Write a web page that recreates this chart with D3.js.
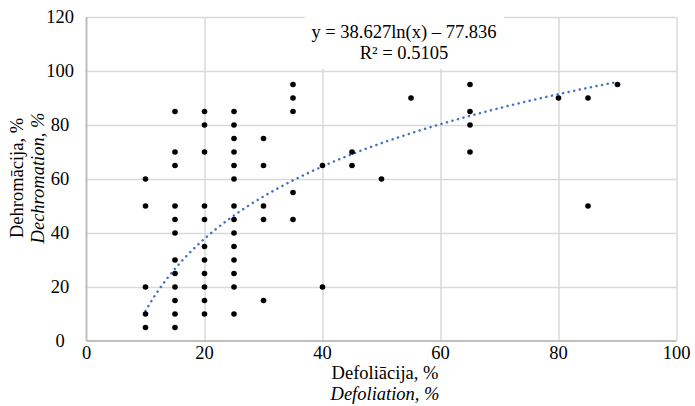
<!DOCTYPE html>
<html lang="lv">
  <head>
    <meta charset="UTF-8">
    <script src="https://d3js.org/d3.v7.min.js"></script>
    <style>
      body { margin: 0; background: #fff; }
      text { font-family: "Liberation Serif", "Times New Roman", serif; fill: #000; }
    </style>
  </head>
  <body>
    <div id="chart"></div>
    <script>
      // data: defoliation (x) and dechromation (y), %
      const defoliation = [
        10, 10, 10, 10, 10,
        15, 15, 15, 15, 15, 15, 15, 15, 15, 15, 15, 15,
        20, 20, 20, 20, 20, 20, 20, 20, 20, 20, 20,
        25, 25, 25, 25, 25, 25, 25, 25, 25, 25, 25, 25, 25, 25,
        30, 30, 30, 30, 30,
        35, 35, 35, 35, 35,
        40, 40,
        45, 45,
        50,
        55,
        65, 65, 65, 65,
        80,
        85, 85,
        90
      ];
      const dechromation = [
        60, 50, 20, 10, 5,
        85, 70, 65, 50, 45, 40, 30, 25, 20, 15, 10, 5,
        85, 80, 70, 50, 45, 35, 30, 25, 20, 15, 10,
        85, 80, 75, 70, 65, 60, 50, 45, 40, 35, 30, 25, 20, 10,
        75, 65, 50, 45, 15,
        95, 90, 85, 55, 45,
        65, 20,
        70, 65,
        60,
        90,
        95, 85, 80, 70,
        90,
        90, 50,
        95
      ];
      const xTicks = [0, 20, 40, 60, 80, 100];
      const yTicks = [0, 20, 40, 60, 80, 100, 120];
      // logarithmic trendline as given on the chart
      const trendA = 38.627, trendB = -77.836, trendR2 = 0.5105;
      const trendRange = [10, 90];

      const width = 695, height = 406;
      const plot = { left: 86.5, right: 676.5, top: 17, bottom: 341 };
      const font = 18.5;

      const svg = d3.select("#chart").append("svg")
        .attr("width", width)
        .attr("height", height);

      const x = d3.scaleLinear().domain([0, 100]).range([plot.left, plot.right]);
      const y = d3.scaleLinear().domain([0, 120]).range([plot.bottom, plot.top]);

      // gridlines
      svg.append("g")
        .attr("transform", `translate(0, ${plot.bottom})`)
        .call(d3.axisBottom(x).tickValues(xTicks.slice(1)).tickSize(-(plot.bottom - plot.top)).tickFormat(""))
        .call(g => g.select(".domain").remove())
        .selectAll("line").attr("stroke", "#d9d9d9").attr("stroke-width", 1.5);
      svg.append("g")
        .attr("transform", `translate(${plot.left}, 0)`)
        .call(d3.axisLeft(y).tickValues(yTicks.slice(1)).tickSize(-(plot.right - plot.left)).tickFormat(""))
        .call(g => g.select(".domain").remove())
        .selectAll("line").attr("stroke", "#d9d9d9").attr("stroke-width", 1.5);

      // axis lines
      svg.append("line")
        .attr("x1", plot.left).attr("x2", plot.right)
        .attr("y1", plot.bottom).attr("y2", plot.bottom)
        .attr("stroke", "#bfbfbf").attr("stroke-width", 2);
      svg.append("line")
        .attr("x1", plot.left).attr("x2", plot.left)
        .attr("y1", plot.top).attr("y2", plot.bottom)
        .attr("stroke", "#bfbfbf").attr("stroke-width", 2);

      // tick labels
      svg.append("g").selectAll("text")
        .data(xTicks)
        .join("text")
        .attr("x", d => x(d))
        .attr("y", 359)
        .attr("text-anchor", "middle")
        .style("font-size", font + "px")
        .text(d => d);
      svg.append("g").selectAll("text")
        .data(yTicks)
        .join("text")
        .attr("x", 60)
        .attr("y", d => y(d))
        .attr("dy", "0.33em")
        .attr("text-anchor", "middle")
        .style("font-size", font + "px")
        .text(d => d);

      // trendline
      const trendPts = d3.range(trendRange[0], trendRange[1] + 0.01, 0.5)
        .map(v => [v, trendA * Math.log(v) + trendB]);
      svg.append("path")
        .datum(trendPts)
        .attr("fill", "none")
        .attr("stroke", "#4472c4")
        .attr("stroke-width", 2.5)
        .attr("stroke-linecap", "round")
        .attr("stroke-dasharray", "0.1 5.6")
        .attr("d", d3.line().x(d => x(d[0])).y(d => y(d[1])));

      // points
      svg.append("g").selectAll("circle")
        .data(defoliation.map((d, i) => [d, dechromation[i]]))
        .join("circle")
        .attr("cx", d => x(d[0]))
        .attr("cy", d => y(d[1]))
        .attr("r", 2.8)
        .attr("fill", "#000");

      // equation label
      svg.append("rect")
        .attr("x", 305).attr("y", 8)
        .attr("width", 199).attr("height", 61)
        .attr("fill", "#fff");
      const sign = trendB < 0 ? "\u2013" : "+";
      svg.append("text")
        .attr("x", 404).attr("y", 38)
        .attr("text-anchor", "middle")
        .style("font-size", font + "px")
        .text(`y = ${trendA}ln(x) ${sign} ${Math.abs(trendB)}`);
      svg.append("text")
        .attr("x", 404).attr("y", 59)
        .attr("text-anchor", "middle")
        .style("font-size", font + "px")
        .text(`R\u00b2 = ${trendR2}`);

      // axis titles
      svg.append("text")
        .attr("x", 385).attr("y", 379)
        .attr("text-anchor", "middle")
        .style("font-size", font + "px")
        .text("Defoliācija, %");
      svg.append("text")
        .attr("x", 385).attr("y", 400)
        .attr("text-anchor", "middle")
        .style("font-size", font + "px")
        .style("font-style", "italic")
        .text("Defoliation, %");
      svg.append("text")
        .attr("transform", "translate(23, 178) rotate(-90)")
        .attr("text-anchor", "middle")
        .style("font-size", font + "px")
        .text("Dehromācija, %");
      svg.append("text")
        .attr("transform", "translate(44, 178) rotate(-90)")
        .attr("text-anchor", "middle")
        .style("font-size", font + "px")
        .style("font-style", "italic")
        .text("Dechromation, %");
    </script>
  </body>
</html>
